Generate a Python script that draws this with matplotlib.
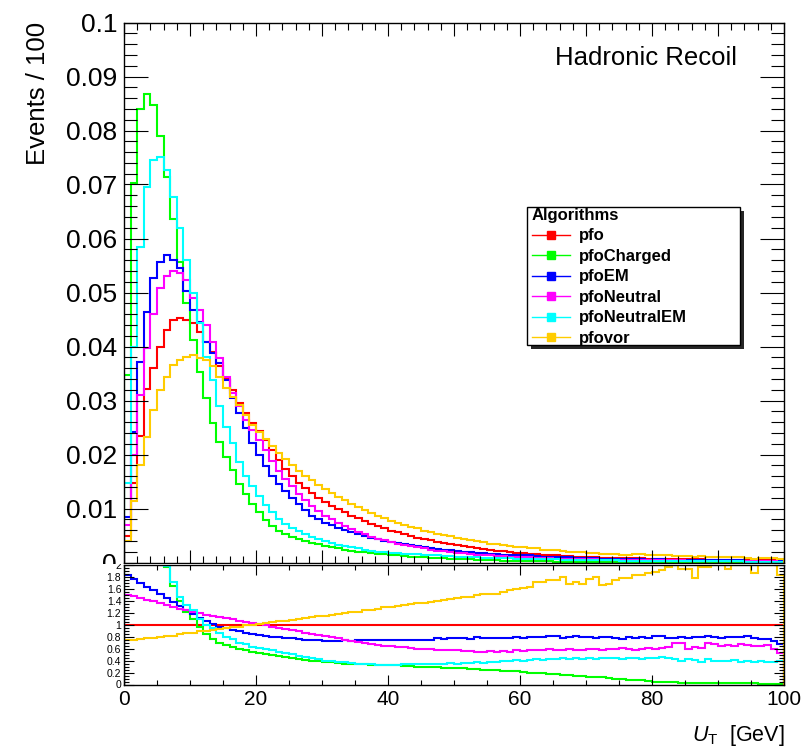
import numpy as np
import matplotlib.pyplot as plt
from matplotlib.lines import Line2D
from matplotlib.patches import Rectangle
from matplotlib.ticker import MultipleLocator

plt.rcParams['font.family'] = ['Liberation Sans', 'DejaVu Sans']
plt.rcParams['mathtext.fontset'] = 'custom'
plt.rcParams['mathtext.it'] = 'Liberation Sans:italic'
plt.rcParams['mathtext.rm'] = 'Liberation Sans'

# hadronic recoil U_T, 1 GeV bins from 0 to 100
bin_edges = np.arange(0, 101)

pfo = [0.0050, 0.0147, 0.0235, 0.0321, 0.0360, 0.0400, 0.0431, 0.0449, 0.0453, 0.0449,
       0.0443, 0.0427, 0.0408, 0.0390, 0.0363, 0.0340, 0.0319, 0.0296, 0.0276, 0.0258,
       0.0244, 0.0226, 0.0208, 0.0190, 0.0174, 0.0160, 0.0147, 0.0138, 0.0129, 0.0120,
       0.0112, 0.0105, 0.0099, 0.0093, 0.0087, 0.0082, 0.0077, 0.0072, 0.0067, 0.0063,
       0.0059, 0.0056, 0.0052, 0.0049, 0.0046, 0.0043, 0.0041, 0.0038, 0.0036, 0.0034,
       0.0032, 0.0030, 0.0028, 0.0026, 0.0025, 0.0023, 0.0022, 0.0021, 0.0019, 0.0018,
       0.0017, 0.0016, 0.0015, 0.0014, 0.0014, 0.0013, 0.0012, 0.0012, 0.0011, 0.0011,
       0.0010, 0.0010, 0.0009, 0.0009, 0.0009, 0.0008, 0.0008, 0.0008, 0.0008, 0.0007,
       0.0007, 0.0007, 0.0007, 0.0006, 0.0006, 0.0006, 0.0006, 0.0006, 0.0005, 0.0005,
       0.0005, 0.0005, 0.0005, 0.0005, 0.0004, 0.0004, 0.0004, 0.0004, 0.0004, 0.0003]

pfoCharged = [0.0348, 0.0703, 0.0840, 0.0868, 0.0847, 0.0790, 0.0714, 0.0637, 0.0557, 0.0480,
              0.0412, 0.0353, 0.0304, 0.0258, 0.0224, 0.0196, 0.0171, 0.0146, 0.0127, 0.0109,
              0.0093, 0.0079, 0.0068, 0.0059, 0.0053, 0.0048, 0.0044, 0.0040, 0.0037, 0.0034,
              0.0031, 0.0028, 0.0026, 0.0024, 0.0022, 0.0020, 0.0019, 0.0017, 0.0016, 0.0015,
              0.0014, 0.0013, 0.0012, 0.0011, 0.0010, 0.00095, 0.0009, 0.00084, 0.00078, 0.00072,
              0.00066, 0.00061, 0.00056, 0.00052, 0.00048, 0.00044, 0.0004, 0.00037, 0.00034, 0.00031,
              0.00028, 0.00025, 0.00023, 0.00021, 0.00019, 0.00017, 0.00015, 0.00013, 0.00012, 0.0001,
              0.00009, 0.00008, 0.00007, 0.00006, 0.00005, 0.00005, 0.00004, 0.00004, 0.00003, 0.00003,
              0.00003, 0.00002, 0.00002, 0.00002, 0.00002, 0.00002, 0.00002, 0.00001, 0.00001, 0.00001,
              0.00001, 0.00001, 0.00001, 0.00001, 0.00001, 0.00001, 0.00001, 0.00001, 0.00001, 0.00001]

pfoEM = [0.0085, 0.0242, 0.0372, 0.0464, 0.0526, 0.0557, 0.0569, 0.0560, 0.0545, 0.0502,
         0.0468, 0.0446, 0.0409, 0.0388, 0.0369, 0.0338, 0.0304, 0.0276, 0.0249, 0.0221,
         0.0199, 0.0178, 0.0160, 0.0145, 0.0132, 0.0120, 0.0108, 0.0097, 0.0087, 0.0080,
         0.0074, 0.0069, 0.0064, 0.0060, 0.0056, 0.0052, 0.0049, 0.0046, 0.0043, 0.0040,
         0.0038, 0.0036, 0.0034, 0.0032, 0.0030, 0.0028, 0.0027, 0.0025, 0.0024, 0.0023,
         0.0021, 0.0020, 0.0019, 0.0018, 0.0017, 0.0016, 0.0015, 0.0014, 0.0014, 0.0013,
         0.0013, 0.0013, 0.0012, 0.0011, 0.0011, 0.0011, 0.00094, 0.00096, 0.00089, 0.00087,
         0.0008, 0.00078, 0.00071, 0.00072, 0.0007, 0.00061, 0.00063, 0.00062, 0.00064, 0.00054,
         0.00057, 0.00057, 0.00054, 0.00047, 0.00047, 0.00047, 0.00047, 0.00048, 0.0004, 0.0004,
         0.00039, 0.0004, 0.0004, 0.0004, 0.00032, 0.00031, 0.0003, 0.0003, 0.00029, 0.0002]

pfoNeutral = [0.0069, 0.0200, 0.0310, 0.0397, 0.0461, 0.0508, 0.0531, 0.0539, 0.0536, 0.0523,
              0.0490, 0.0468, 0.0440, 0.0409, 0.0378, 0.0344, 0.0313, 0.0289, 0.0264, 0.0245,
              0.0227, 0.0208, 0.0188, 0.0170, 0.0155, 0.0141, 0.0127, 0.0115, 0.0104, 0.0095,
              0.0087, 0.0080, 0.0073, 0.0067, 0.0062, 0.0057, 0.0052, 0.0048, 0.0044, 0.0041,
              0.0038, 0.0035, 0.0032, 0.0030, 0.0028, 0.0026, 0.0024, 0.0022, 0.0021, 0.0019,
              0.0018, 0.0017, 0.0016, 0.0014, 0.0014, 0.0013, 0.0012, 0.0012, 0.0011, 0.0010,
              0.00095, 0.00093, 0.00086, 0.00081, 0.00083, 0.00074, 0.0007, 0.00071, 0.00063, 0.00064,
              0.0006, 0.00059, 0.00052, 0.00054, 0.00047, 0.00049, 0.00048, 0.00046, 0.00048, 0.00043,
              0.00042, 0.00043, 0.00043, 0.00042, 0.00041, 0.00036, 0.00037, 0.00031, 0.00035, 0.00034,
              0.00033, 0.00033, 0.00032, 0.00034, 0.00026, 0.00026, 0.00026, 0.00026, 0.00024, 0.00016]

pfoNeutralEM = [0.0148, 0.0400, 0.0585, 0.0696, 0.0745, 0.0751, 0.0727, 0.0677, 0.0619, 0.0560,
                0.0499, 0.0443, 0.0381, 0.0338, 0.0289, 0.0251, 0.0221, 0.0187, 0.0160, 0.0141,
                0.0123, 0.0106, 0.0093, 0.0081, 0.0071, 0.0064, 0.0058, 0.0052, 0.0047, 0.0043,
                0.0039, 0.0036, 0.0033, 0.0030, 0.0028, 0.0026, 0.0024, 0.0022, 0.0020, 0.0019,
                0.0018, 0.0017, 0.0016, 0.0015, 0.0015, 0.0014, 0.0013, 0.0013, 0.0012, 0.0012,
                0.0011, 0.0011, 0.0010, 0.00096, 0.0009, 0.00085, 0.00084, 0.00082, 0.00076, 0.00074,
                0.00068, 0.00066, 0.00063, 0.00057, 0.00059, 0.00056, 0.00053, 0.00052, 0.00048, 0.00047,
                0.00044, 0.00043, 0.0004, 0.0004, 0.0004, 0.00036, 0.00035, 0.00035, 0.00034, 0.00031,
                0.00032, 0.00032, 0.00031, 0.00025, 0.00024, 0.00026, 0.00025, 0.00023, 0.00021, 0.0002,
                0.0002, 0.0002, 0.0002, 0.00019, 0.00016, 0.00015, 0.00016, 0.00015, 0.00015, 0.00012]

pfovor = [0.0039, 0.0113, 0.0180, 0.0233, 0.0282, 0.0319, 0.0344, 0.0366, 0.0375, 0.0381,
          0.0384, 0.0378, 0.0375, 0.0363, 0.0344, 0.0323, 0.0307, 0.0292, 0.0273, 0.0255,
          0.0242, 0.0228, 0.0215, 0.0203, 0.0192, 0.0181, 0.0170, 0.0161, 0.0152, 0.0144,
          0.0136, 0.0129, 0.0122, 0.0115, 0.0109, 0.0103, 0.0097, 0.0092, 0.0087, 0.0082,
          0.0077, 0.0073, 0.0069, 0.0066, 0.0063, 0.0059, 0.0057, 0.0053, 0.0051, 0.0049,
          0.0046, 0.0044, 0.0041, 0.0039, 0.0038, 0.0035, 0.0034, 0.0033, 0.0030, 0.0029,
          0.0028, 0.0027, 0.0026, 0.0024, 0.0024, 0.0023, 0.0022, 0.0020, 0.0019, 0.0019,
          0.0018, 0.0018, 0.0015, 0.0015, 0.0015, 0.0014, 0.0014, 0.0015, 0.0015, 0.0013,
          0.0013, 0.0013, 0.0014, 0.0012, 0.0012, 0.0012, 0.0011, 0.0012, 0.0010, 0.0010,
          0.0010, 0.0010, 0.0010, 0.0010, 0.0008, 0.0007, 0.0008, 0.0008, 0.0008, 0.0006]

# ratio of each algorithm to pfo, per bin
ratio_pfoCharged = [7.0, 4.8, 3.6, 2.7, 2.35, 2.1, 1.97, 1.65, 1.40, 1.22,
                    1.10, 0.97, 0.85, 0.76, 0.70, 0.66, 0.63, 0.60, 0.57, 0.55,
                    0.53, 0.51, 0.49, 0.47, 0.46, 0.44, 0.42, 0.41, 0.40, 0.39,
                    0.38, 0.37, 0.36, 0.35, 0.35, 0.34, 0.34, 0.33, 0.33, 0.33,
                    0.32, 0.32, 0.31, 0.31, 0.30, 0.30, 0.29, 0.29, 0.28, 0.28,
                    0.27, 0.27, 0.26, 0.26, 0.25, 0.24, 0.24, 0.23, 0.22, 0.22,
                    0.21, 0.20, 0.20, 0.19, 0.18, 0.17, 0.16, 0.16, 0.15, 0.14,
                    0.13, 0.12, 0.12, 0.11, 0.10, 0.09, 0.08, 0.08, 0.07, 0.06,
                    0.05, 0.05, 0.04, 0.04, 0.03, 0.03, 0.03, 0.02, 0.02, 0.02,
                    0.02, 0.02, 0.02, 0.02, 0.02, 0.02, 0.01, 0.01, 0.01, 0.01]

ratio_pfoEM = [1.83, 1.76, 1.70, 1.64, 1.58, 1.51, 1.45, 1.38, 1.31, 1.25,
               1.18, 1.12, 1.06, 1.01, 0.97, 0.94, 0.92, 0.89, 0.87, 0.85,
               0.83, 0.82, 0.80, 0.79, 0.78, 0.77, 0.76, 0.75, 0.75, 0.74,
               0.73, 0.73, 0.73, 0.74, 0.73, 0.74, 0.75, 0.74, 0.74, 0.74,
               0.74, 0.74, 0.75, 0.74, 0.74, 0.74, 0.75, 0.77, 0.76, 0.78,
               0.77, 0.78, 0.76, 0.79, 0.77, 0.78, 0.77, 0.78, 0.78, 0.79,
               0.77, 0.79, 0.80, 0.79, 0.81, 0.81, 0.78, 0.80, 0.81, 0.79,
               0.80, 0.78, 0.79, 0.80, 0.78, 0.76, 0.79, 0.78, 0.80, 0.77,
               0.81, 0.81, 0.77, 0.78, 0.79, 0.78, 0.79, 0.80, 0.81, 0.79,
               0.78, 0.80, 0.79, 0.80, 0.81, 0.78, 0.76, 0.76, 0.73, 0.68]

ratio_pfoNeutral = [1.50, 1.48, 1.45, 1.42, 1.40, 1.37, 1.33, 1.30, 1.27, 1.24,
                    1.21, 1.19, 1.17, 1.15, 1.13, 1.11, 1.09, 1.07, 1.05, 1.03,
                    1.01, 0.99, 0.97, 0.95, 0.93, 0.91, 0.89, 0.87, 0.85, 0.83,
                    0.81, 0.79, 0.77, 0.75, 0.73, 0.71, 0.69, 0.67, 0.66, 0.65,
                    0.64, 0.63, 0.62, 0.61, 0.60, 0.59, 0.59, 0.58, 0.58, 0.57,
                    0.57, 0.56, 0.56, 0.55, 0.55, 0.56, 0.55, 0.56, 0.55, 0.57,
                    0.56, 0.58, 0.57, 0.58, 0.59, 0.57, 0.58, 0.59, 0.57, 0.58,
                    0.60, 0.59, 0.58, 0.60, 0.59, 0.61, 0.60, 0.58, 0.60, 0.61,
                    0.60, 0.61, 0.62, 0.70, 0.69, 0.60, 0.62, 0.61, 0.69, 0.67,
                    0.65, 0.66, 0.64, 0.67, 0.66, 0.65, 0.64, 0.66, 0.60, 0.52]

ratio_pfoNeutralEM = [2.9, 2.7, 2.5, 2.2, 2.1, 2.05, 1.98, 1.72, 1.46, 1.33,
                      1.25, 1.10, 1.00, 0.95, 0.87, 0.80, 0.76, 0.70, 0.67, 0.63,
                      0.61, 0.59, 0.57, 0.55, 0.53, 0.51, 0.48, 0.46, 0.44, 0.42,
                      0.40, 0.39, 0.38, 0.37, 0.36, 0.35, 0.34, 0.34, 0.33, 0.33,
                      0.33, 0.33, 0.34, 0.34, 0.34, 0.35, 0.35, 0.35, 0.35, 0.36,
                      0.35, 0.36, 0.36, 0.37, 0.36, 0.37, 0.38, 0.39, 0.40, 0.41,
                      0.40, 0.41, 0.42, 0.41, 0.42, 0.43, 0.44, 0.43, 0.44, 0.43,
                      0.44, 0.43, 0.44, 0.44, 0.45, 0.43, 0.44, 0.44, 0.43, 0.44,
                      0.45, 0.46, 0.44, 0.42, 0.40, 0.43, 0.41, 0.38, 0.42, 0.40,
                      0.39, 0.40, 0.41, 0.38, 0.39, 0.38, 0.39, 0.38, 0.38, 0.39]

ratio_pfovor = [0.74, 0.75, 0.76, 0.77, 0.78, 0.79, 0.81, 0.82, 0.84, 0.86,
                0.87, 0.89, 0.90, 0.91, 0.93, 0.94, 0.96, 0.97, 0.99, 1.00,
                1.02, 1.03, 1.04, 1.06, 1.07, 1.08, 1.10, 1.11, 1.13, 1.14,
                1.15, 1.16, 1.18, 1.19, 1.21, 1.22, 1.24, 1.25, 1.27, 1.29,
                1.30, 1.31, 1.33, 1.34, 1.36, 1.37, 1.38, 1.40, 1.41, 1.43,
                1.44, 1.46, 1.47, 1.49, 1.51, 1.52, 1.52, 1.55, 1.58, 1.60,
                1.61, 1.63, 1.72, 1.72, 1.75, 1.75, 1.80, 1.69, 1.72, 1.69,
                1.76, 1.80, 1.66, 1.69, 1.75, 1.78, 1.78, 1.83, 1.83, 1.86,
                1.89, 1.91, 1.97, 2.03, 1.94, 1.94, 1.78, 1.97, 1.97, 2.03,
                2.03, 1.94, 2.03, 2.03, 2.03, 1.86, 2.00, 2.00, 2.00, 1.83]

algorithms = ['pfo', 'pfoCharged', 'pfoEM', 'pfoNeutral', 'pfoNeutralEM', 'pfovor']
colors = ['#ff0000', '#00ff00', '#0000ff', '#ff00ff', '#00ffff', '#ffcc00']
hists = [pfo, pfoCharged, pfoEM, pfoNeutral, pfoNeutralEM, pfovor]
ratios = [np.array(pfo) / np.array(pfo), ratio_pfoCharged, ratio_pfoEM,
          ratio_pfoNeutral, ratio_pfoNeutralEM, ratio_pfovor]

W, H = 805, 752
fig = plt.figure(figsize=(W / 100, H / 100), dpi=100)
ax = fig.add_axes([124 / W, 1 - 562.5 / H, 660 / W, 540 / H])
rax = fig.add_axes([124 / W, 1 - 684.5 / H, 660 / W, 119.5 / H])

# upper pad: distributions
for vals, c in zip(hists, colors):
    ax.stairs(vals, bin_edges, color=c, lw=1.5)

ax.set_xlim(0, 100)
ax.set_ylim(0, 0.1)
ax.xaxis.set_major_locator(MultipleLocator(10))
ax.xaxis.set_minor_locator(MultipleLocator(2))
ax.set_yticks(np.linspace(0, 0.1, 11))
ax.set_yticklabels(['0', '0.01', '0.02', '0.03', '0.04', '0.05',
                    '0.06', '0.07', '0.08', '0.09', '0.1'])
ax.yaxis.set_minor_locator(MultipleLocator(0.002))
ax.tick_params(axis='x', which='major', direction='in', length=9.4, width=0.8,
               top=True, labelbottom=False)
ax.tick_params(axis='x', which='minor', direction='in', length=5, width=0.8, top=True)
ax.tick_params(axis='y', which='major', direction='in', length=17, width=0.8,
               right=True, labelsize=19, pad=5)
ax.tick_params(axis='y', which='minor', direction='in', length=9.4, width=0.8, right=True)
for s in ax.spines.values():
    s.set_linewidth(1.0)

ax.text(0.653, 0.934, 'Hadronic Recoil', transform=ax.transAxes,
        fontsize=18.5, ha='left', va='center')

# legend: boxed with a solid drop shadow
box_x, box_y, box_w, box_h = 0.6106, 0.4028, 0.3227, 0.2556
ax.add_patch(Rectangle((box_x + 0.0061, box_y - 0.0074), box_w, box_h,
                       transform=ax.transAxes, facecolor='0.15',
                       edgecolor='none', zorder=4))
ax.add_patch(Rectangle((box_x, box_y), box_w, box_h, transform=ax.transAxes,
                       facecolor='white', edgecolor='black', lw=1.0, zorder=4.1))
handles = [Line2D([], [], color=c, lw=1.0, marker='s', markersize=6,
                  markeredgecolor=c) for c in colors]
leg = ax.legend(handles, algorithms, title='Algorithms',
                loc='upper left', bbox_to_anchor=(0.6182, 0.6565),
                borderaxespad=0, frameon=False,
                prop={'weight': 'bold', 'size': 12},
                title_fontproperties={'weight': 'bold', 'size': 12},
                alignment='left', handlelength=2.3, handletextpad=0.5,
                labelspacing=0.33, borderpad=0)
leg.set_zorder(5)

# lower pad: ratio to pfo; its white background hides the lower half of the
# upper pad's "0" label, the way the second pad covers the first one
rax.add_patch(Rectangle((0, 0), 1, 1 - 564 / H, transform=fig.transFigure,
                        facecolor='white', edgecolor='none', zorder=-1,
                        clip_on=False))
for vals, c in zip(ratios, colors):
    rax.stairs(vals, bin_edges, color=c, lw=1.5)

rax.set_xlim(0, 100)
rax.set_ylim(0, 2)
rax.xaxis.set_major_locator(MultipleLocator(20))
rax.xaxis.set_minor_locator(MultipleLocator(5))
rax.set_yticks(np.linspace(0, 2, 11))
rax_labels = rax.set_yticklabels(['0', '0.2', '0.4', '0.6', '0.8', '1',
                                  '1.2', '1.4', '1.6', '1.8', '2'])
# the "2" sticks out above the lower pad and is cut at its edge
rax_labels[-1].set_clip_path(Rectangle((0, 0), 1, 1 - 564 / H,
                                       transform=fig.transFigure))
rax.yaxis.set_minor_locator(MultipleLocator(0.05))
rax.tick_params(axis='x', which='major', direction='in', length=7, width=0.8,
                top=True, labelsize=15, pad=4)
rax.tick_params(axis='x', which='minor', direction='in', length=3.6, width=0.8, top=True)
rax.tick_params(axis='y', which='major', direction='in', length=7, width=0.8,
                right=True, labelsize=7.5, pad=2)
rax.tick_params(axis='y', which='minor', direction='in', length=3.6, width=0.8, right=True)
for s in rax.spines.values():
    s.set_linewidth(1.0)

fig.text(38 / W, 1 - 22 / H, 'Events / 100', rotation=90, ha='center', va='top',
         fontsize=18.5)
fig.text(785 / W, 1 - 735 / H, r'$U_{\mathrm{T}}$  [GeV]', ha='right', va='center',
         fontsize=15.5)

fig.savefig('out.png', dpi=100)
